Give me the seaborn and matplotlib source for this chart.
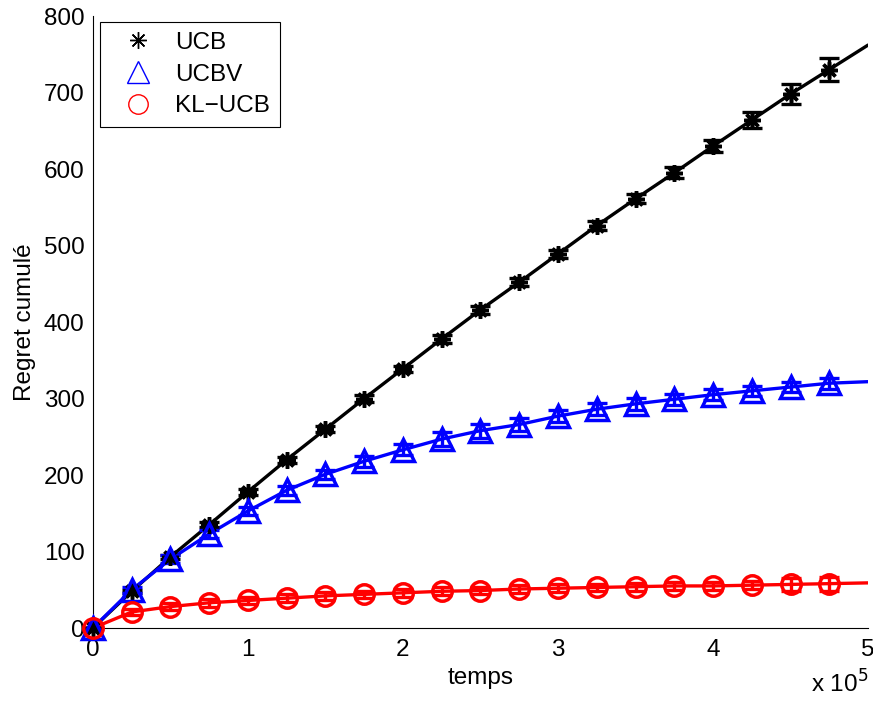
import numpy as np
import pandas as pd
import matplotlib
matplotlib.use("Agg")
import matplotlib.pyplot as plt
import seaborn as sns
from matplotlib.lines import Line2D

sns.set_style("white")
plt.rcParams['font.family'] = ['Liberation Sans', 'DejaVu Sans']
plt.rcParams['text.color'] = 'black'
plt.rcParams['axes.labelcolor'] = 'black'

# data
temps = [0, 25000, 50000, 75000, 100000, 125000, 150000, 175000, 200000, 225000,
         250000, 275000, 300000, 325000, 350000, 375000, 400000, 425000, 450000, 475000]
temps_end = 500000
ucb = [0, 48, 93, 135, 178, 220, 260, 300, 339, 378, 416, 452, 489, 526, 561, 595, 630, 664, 698, 730]
ucb_end = 762
ucb_err = [0, 2, 3, 3, 4, 4, 4, 4, 4, 5, 5, 5, 5, 6, 6, 7, 8, 11, 13, 15]
ucbv = [0, 50, 90, 123, 153, 180, 201, 218, 233, 247, 258, 266, 277, 286, 293, 299, 305, 310, 315, 320]
ucbv_end = 322
ucbv_err = [0, 4, 5, 5, 5, 6, 6, 7, 7, 9, 9, 9, 8, 8, 8, 7, 7, 7, 7, 7]
klucb = [0, 21, 28, 33, 36, 39, 42, 44, 46, 48, 49, 51, 52, 53, 54, 55, 55, 56, 57, 58]
klucb_end = 59
klucb_err = [0, 4, 5, 5, 5, 5, 5, 5, 5, 5, 5, 5, 5, 5, 5, 5, 5, 5, 8, 9]

labels = ["UCB", "UCBV", "KL\u2212UCB"]
colors = ["black", "blue", "red"]
markers = [(8, 2, 0), "^", "o"]
msizes = [12, 16, 14]

series = [(ucb, ucb_end, ucb_err), (ucbv, ucbv_end, ucbv_err), (klucb, klucb_end, klucb_err)]

FS = 17.5

fig = plt.figure(figsize=(8.73, 7.02), dpi=100)
ax = fig.add_axes([0.1065, 0.1054, 0.8878, 0.8718])

rows = []
for lab, (vals, vend, _) in zip(labels, series):
    for t, v in zip(temps + [temps_end], vals + [vend]):
        rows.append({"temps": t, "regret": v, "algo": lab})
df = pd.DataFrame(rows)

sns.lineplot(data=df, x="temps", y="regret", hue="algo", palette=dict(zip(labels, colors)),
             linewidth=2.4, legend=False, ax=ax, zorder=2)

for lab, (vals, vend, err), c, m, ms in zip(labels, series, colors, markers, msizes):
    _, caps, bars = ax.errorbar(temps, vals, yerr=err, fmt='none', ecolor=c, elinewidth=2.4,
                                capsize=7, capthick=2.4, zorder=3)
    for a in list(caps) + list(bars):
        a.set_clip_on(False)
    ax.plot(temps, vals, linestyle='none', marker=m, markersize=ms,
            markerfacecolor='none', markeredgecolor=c, markeredgewidth=2.5, zorder=4,
            clip_on=False)

ax.set_xlim(0, 500000)
ax.set_ylim(0, 800)
ax.set_xticks([0, 100000, 200000, 300000, 400000, 500000])
ax.set_xticklabels(["0", "1", "2", "3", "4", "5"])
ax.set_yticks(range(0, 801, 100))
ax.tick_params(direction='in', length=6, width=0.8, labelsize=FS, colors='black', pad=6)
ax.tick_params(axis='x', pad=8)
for s in ["top", "right"]:
    ax.spines[s].set_visible(False)
for s in ["left", "bottom"]:
    ax.spines[s].set_color("black")
    ax.spines[s].set_linewidth(0.8)
ax.set_xlabel("temps", fontsize=FS, labelpad=4)
ax.set_ylabel("Regret cumulé", fontsize=FS, labelpad=6)
ax.text(1.0, -0.07, r"x 10$^5$", transform=ax.transAxes, ha='right', va='top', fontsize=FS)

handles = [Line2D([], [], linestyle='none', marker=m, markersize=ms, markerfacecolor='none',
                  markeredgecolor=c, markeredgewidth=1.0)
           for m, ms, c in zip(markers, msizes, colors)]
leg = ax.legend(handles, labels, loc='upper left', bbox_to_anchor=(0.009, 0.99), fontsize=FS,
                frameon=True, fancybox=False, edgecolor='black', framealpha=1,
                handletextpad=0.4, borderpad=0.4, labelspacing=0.4, handlelength=2.3,
                borderaxespad=0.0)
leg.get_frame().set_linewidth(0.8)

fig.savefig("out.png", dpi=100, facecolor='white')
